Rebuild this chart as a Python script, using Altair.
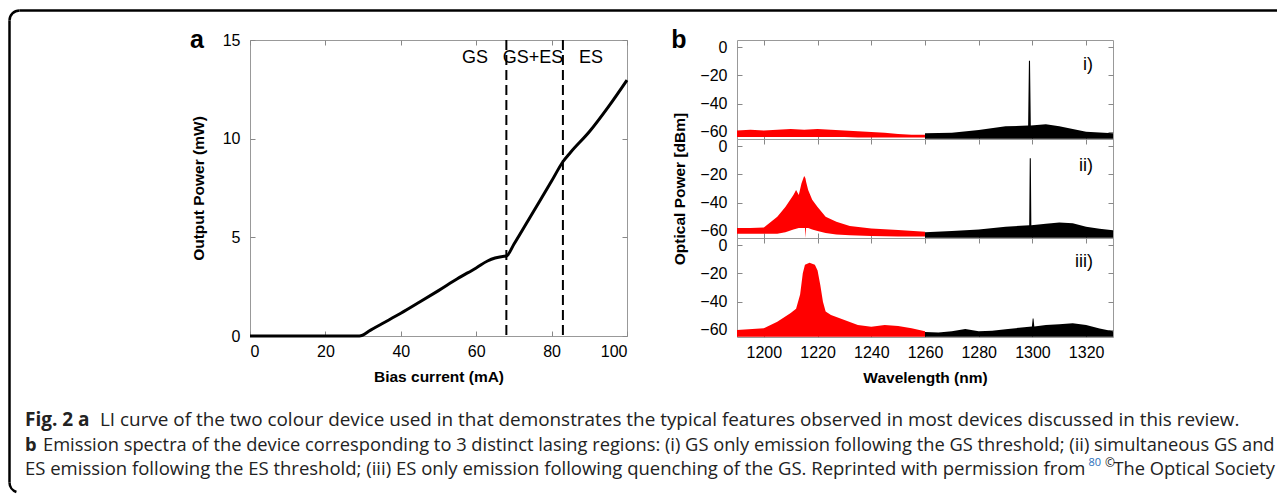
import math
import altair as alt
import pandas as pd

# ---------------- data: panel a (LI curve) ----------------
bias_ma = [0, 10, 20, 29, 32, 35, 40, 45, 50, 55, 60, 63, 65, 67, 68, 70, 75, 80, 83, 85, 90, 95, 100]
power_mw = [0, 0, 0, 0, 0.3, 0.62, 1.15, 1.72, 2.3, 2.9, 3.45, 3.8, 3.95, 4.03, 4.05, 4.65, 6.25, 7.85, 8.83, 9.3, 10.35, 11.6, 12.97]
thresholds_ma = [68, 83]
region_labels = ["GS", "GS+ES", "ES"]

# ---------------- data: panel b (spectra envelopes, dBm) ----------------
# i)
wl_red_1 = [1190, 1195, 1200, 1205, 1210, 1215, 1220, 1225, 1230, 1235, 1240, 1245, 1250, 1255, 1260]
hi_red_1 = [-59, -58.5, -59, -58.5, -58, -58.5, -58, -58.5, -59, -59.5, -60, -60.5, -61.5, -62, -62]
lo_red_1 = [-63.5, -63.5, -63.5, -63.5, -63.5, -63.5, -63.5, -63.5, -63.5, -64, -64, -64, -64, -64, -64]
wl_blk_1 = [1260, 1270, 1280, 1290, 1298.4, 1298.7, 1299.1, 1299.4, 1305, 1310, 1320, 1330]
hi_blk_1 = [-61, -60.5, -58.6, -56, -55.5, -9.6, -9.6, -55.5, -54.6, -56, -59.8, -61]
lo_blk_1 = [-64.8, -64.8, -64.8, -64.8, -64.8, -64.8, -64.8, -64.8, -64.8, -64.8, -64.8, -64.8]
# ii)
wl_red_2 = [1190, 1195, 1200, 1205, 1208, 1211, 1212, 1213, 1214, 1215, 1215.3, 1215.5, 1215.7, 1216.5, 1218, 1220, 1223, 1227, 1232, 1240, 1250, 1260]
hi_red_2 = [-58, -58, -57.5, -50, -43, -34.6, -31, -34.6, -26.4, -21.2, -22, -23, -25, -31, -38, -43, -50, -53.5, -56.5, -58.2, -59.4, -60.5]
lo_red_2 = [-62, -62, -62, -62, -61, -59, -58.5, -58, -58, -58, -58, -65, -58, -58, -59, -60, -61.5, -62.5, -63, -63.5, -64, -64]
wl_blk_2 = [1260, 1270, 1280, 1290, 1298.8, 1299.0, 1299.4, 1299.6, 1305, 1310, 1315, 1320, 1325, 1330]
hi_blk_2 = [-61, -60, -59, -57, -56, -8.6, -8.6, -56, -55, -54, -54.5, -57, -58.5, -59.5]
lo_blk_2 = [-64.8, -64.8, -64.8, -64.8, -64.8, -64.8, -64.8, -64.8, -64.8, -64.8, -64.8, -64.8, -64.8, -64.8]
# iii)
wl_red_3 = [1190, 1200, 1205, 1210, 1212, 1213.5, 1214.5, 1215.3, 1217, 1219, 1220, 1221, 1222, 1223, 1225, 1230, 1235, 1240, 1245, 1250, 1255, 1260]
hi_red_3 = [-60, -58.8, -54.2, -48, -45, -35, -20, -14, -12.5, -14, -18, -28, -40, -47, -49.5, -53, -56.5, -57.7, -56.5, -57.2, -58.8, -61]
lo_red_3 = [-64.8, -64.8, -64.8, -64.8, -64.8, -64.8, -64.8, -64.8, -64.8, -64.8, -64.8, -64.8, -64.8, -64.8, -64.8, -64.8, -64.8, -64.8, -64.8, -64.8, -64.8, -64.8]
wl_blk_3 = [1260, 1265, 1270, 1275, 1280, 1285, 1290, 1295, 1299.8, 1300.1, 1300.4, 1300.7, 1305, 1310, 1315, 1320, 1325, 1330]
hi_blk_3 = [-61.5, -61.8, -61, -59.3, -61, -60.5, -59.5, -58.5, -57.5, -52, -52, -57.5, -56.5, -56, -55.3, -56.5, -59, -61]
lo_blk_3 = [-64.8, -64.8, -64.8, -64.8, -64.8, -64.8, -64.8, -64.8, -64.8, -64.8, -64.8, -64.8, -64.8, -64.8, -64.8, -64.8, -64.8, -64.8]
spectrum_labels = ["i)", "ii)", "iii)"]

# ---------------- text ----------------
cap1_bold = "Fig. 2 a"
cap1 = "LI curve of the two colour device used in that demonstrates the typical features observed in most devices discussed in this review."
cap2_bold = "b"
cap2 = "Emission spectra of the device corresponding to 3 distinct lasing regions: (i) GS only emission following the GS threshold; (ii) simultaneous GS and"
cap3 = "ES emission following the ES threshold; (iii) ES only emission following quenching of the GS. Reprinted with permission from"
cap3_ref = "80"
cap3_copy = "©"
cap3_end = "The Optical Society"

# ---------------- styling ----------------
FONT = "Liberation Sans"
CAPFONT = "Open Sans"
TICKC = "#888888"
FRAME = alt.ViewBackground(stroke="#999999", strokeWidth=1)
one = pd.DataFrame({"k": [0]})
OX = 250  # page x of panel a plot origin
OY = 40   # page y of panel a plot origin


def axis(orient, labels=True, title=None, values=None, **kw):
    args = dict(orient=orient, labels=labels, offset=-5, tickSize=5, domain=False, grid=False,
                tickColor=TICKC, tickWidth=1, labelFont=FONT, labelFontSize=16, labelColor="black",
                titleFont=FONT, titleFontSize=15.5, titleFontWeight="bold", titleColor="black")
    if values is not None:
        args["values"] = values
    args.update(kw)
    return alt.Axis(title=title, **args)


def ctext(txt, x, y, size=18.3, weight="normal", color="#222222", align="left"):
    return alt.Chart(one).mark_text(text=txt, font=CAPFONT, fontSize=size, fontWeight=weight, color=color,
                                    align=align, baseline="alphabetic").encode(
        x=alt.value(x - OX), y=alt.value(y - OY))


# ---------------- panel a ----------------
dfa = pd.DataFrame({"bias": bias_ma, "power": power_mw})
dft = pd.DataFrame({"thr": thresholds_ma})
xa_s = alt.Scale(domain=[0, 100], nice=False, zero=False)
ya_s = alt.Scale(domain=[0, 15], nice=False)
xticks_a = [0, 20, 40, 60, 80, 100]
yticks_a = [0, 5, 10, 15]

a_line = alt.Chart(dfa).mark_line(color="black", strokeWidth=3, interpolate="monotone").encode(
    x=alt.X("bias:Q", scale=xa_s, axis=axis("bottom", title="Bias current (mA)", values=xticks_a,
                                            labelPadding=7, titlePadding=10)),
    y=alt.Y("power:Q", scale=ya_s, axis=axis("left", title="Output Power (mW)", values=yticks_a,
                                             labelPadding=10, titlePadding=16)),
)
a_mirror = alt.Chart(dfa).mark_point(opacity=0).encode(
    x=alt.X("bias:Q", axis=axis("top", labels=False, values=xticks_a)),
    y=alt.Y("power:Q", axis=axis("right", labels=False, values=yticks_a)),
)
a_rules = alt.Chart(dft).mark_rule(color="black", strokeWidth=2, strokeDash=[10, 5]).encode(
    x=alt.X("thr:Q", axis=None)
)
a_texts = [
    alt.Chart(one).mark_text(text=t, font=FONT, fontSize=18, align="center", baseline="middle").encode(
        x=alt.value(px), y=alt.value(18))
    for t, px in zip(region_labels, [225, 283, 341])
]
a_letter = alt.Chart(one).mark_text(text="a", font=FONT, fontSize=25, fontWeight="bold",
                                    align="center", baseline="middle").encode(x=alt.value(-53), y=alt.value(0))

# caption + figure border (decorations drawn in panel a's coordinate frame)
cap_layers = [
    ctext(cap1_bold, 25, 426, weight="bold", size=19),
    ctext(cap1, 100, 426, size=18.9),
    ctext(cap2_bold, 25, 451, weight="bold"),
    ctext(cap2, 43, 451, size=18.3),
    ctext(cap3, 25, 475, size=18.5),
    ctext(cap3_ref, 1101, 466, size=11, color="#2a6ebb", align="right"),
    ctext(cap3_copy, 1115, 467, size=12, align="right"),
    ctext(cap3_end, 1275, 475, size=18.3, align="right"),
]
bw = 2.5
border = [
    alt.Chart(one).mark_rule(color="black", strokeWidth=bw).encode(
        x=alt.value(9.5 - OX), y=alt.value(20.5 - OY), y2=alt.value(482.5 - OY)),
    alt.Chart(one).mark_rule(color="black", strokeWidth=bw).encode(
        x=alt.value(19.5 - OX), x2=alt.value(1277 - OX), y=alt.value(10.5 - OY)),
    alt.Chart(one).mark_arc(color="black", radius=10 + bw / 2, radius2=10 - bw / 2,
                            theta=1.5 * math.pi, theta2=2 * math.pi).encode(
        x=alt.value(19.5 - OX), y=alt.value(20.5 - OY)),
    alt.Chart(one).mark_arc(color="black", radius=10 + bw / 2, radius2=10 - bw / 2,
                            theta=1.1 * math.pi, theta2=1.5 * math.pi).encode(
        x=alt.value(19.5 - OX), y=alt.value(482.5 - OY)),
]

panel_a = alt.layer(a_line, a_mirror, a_rules, *a_texts, a_letter, *cap_layers, *border).resolve_axis(
    x="independent", y="independent").properties(width=377, height=296, view=FRAME)

# ---------------- panel b ----------------
xb_s = alt.Scale(domain=[1190, 1330], nice=False, zero=False)
yb_s = alt.Scale(domain=[-65, 5], nice=False, zero=False)
xticks_b = [1200, 1220, 1240, 1260, 1280, 1300, 1320]
yticks_b = [0, -20, -40, -60]

spectra = [
    (wl_red_1, hi_red_1, lo_red_1, wl_blk_1, hi_blk_1, lo_blk_1),
    (wl_red_2, hi_red_2, lo_red_2, wl_blk_2, hi_blk_2, lo_blk_2),
    (wl_red_3, hi_red_3, lo_red_3, wl_blk_3, hi_blk_3, lo_blk_3),
]
label_y = [25, 27, 24]

subs = []
for i, (wr, hr, lr, wk, hk, lk) in enumerate(spectra):
    dr = pd.DataFrame({"wl": wr, "hi": hr, "lo": lr})
    dk = pd.DataFrame({"wl": wk, "hi": hk, "lo": lk})
    last = i == 2
    xax = axis("bottom", labels=last, title="Wavelength (nm)" if last else None, values=xticks_b,
               format="d", labelPadding=7, titlePadding=10)
    yax = axis("left", title="Optical Power [dBm]" if i == 1 else None, values=yticks_b,
               labelPadding=10, titlePadding=12)
    red = alt.Chart(dr).mark_area(color="#ff0000", opacity=1).encode(
        x=alt.X("wl:Q", scale=xb_s, axis=xax),
        y=alt.Y("hi:Q", scale=yb_s, axis=yax),
        y2="lo:Q",
    )
    blk = alt.Chart(dk).mark_area(color="black", opacity=1).encode(
        x=alt.X("wl:Q", axis=None),
        y=alt.Y("hi:Q", axis=None),
        y2="lo:Q",
    )
    mirror = alt.Chart(dk).mark_point(opacity=0).encode(
        x=alt.X("wl:Q", axis=axis("top", labels=False, values=xticks_b)),
        y=alt.Y("hi:Q", axis=axis("right", labels=False, values=yticks_b)),
    )
    lab = alt.Chart(one).mark_text(text=spectrum_labels[i], font=FONT, fontSize=18, align="right",
                                   baseline="middle").encode(x=alt.value(356), y=alt.value(label_y[i]))
    layers = [red, blk, mirror, lab]
    if i == 0:
        layers.append(alt.Chart(one).mark_text(text="b", font=FONT, fontSize=25, fontWeight="bold",
                                               align="center", baseline="middle").encode(
            x=alt.value(-58), y=alt.value(0)))
    subs.append(alt.layer(*layers).resolve_axis(x="independent", y="independent").properties(
        width=376, height=99, view=FRAME))

panel_b = alt.vconcat(*subs, spacing=0, bounds="flush")

chart = alt.hconcat(panel_a, panel_b, spacing=110, bounds="flush").properties(
    padding={"left": 7, "top": 8, "right": 0, "bottom": 0}
).configure(background="white")

chart.save("out.html", embed_options={"renderer": "svg", "actions": False})
